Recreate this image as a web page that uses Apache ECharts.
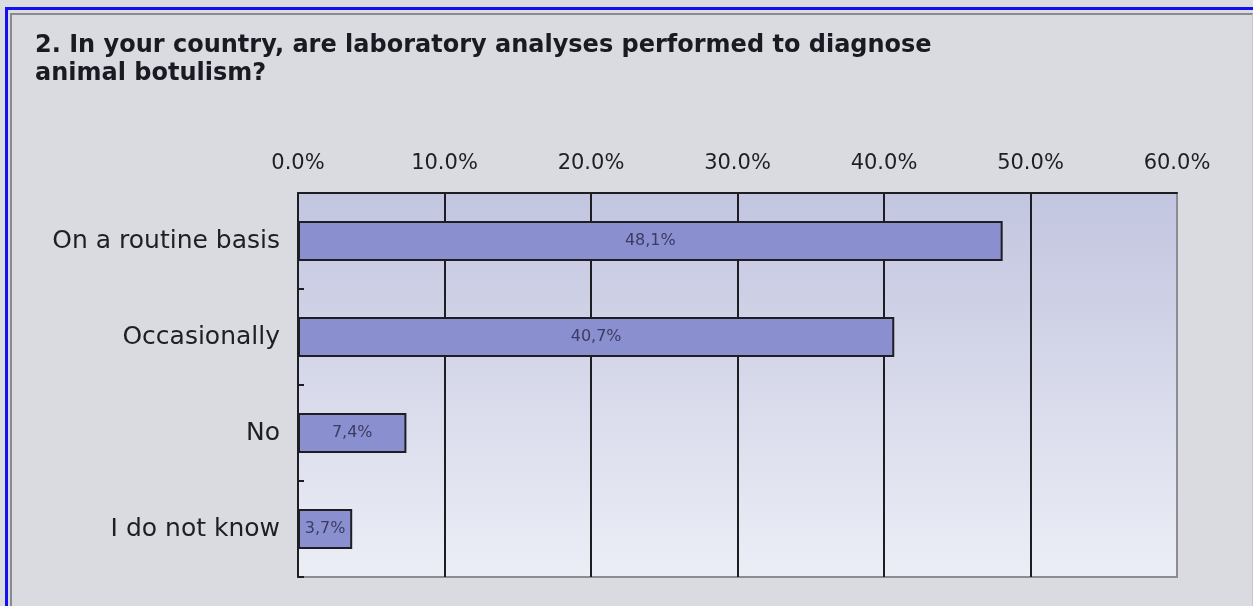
<!DOCTYPE html>
<html>
<head>
<meta charset="utf-8">
<script src="https://cdn.jsdelivr.net/npm/echarts@6/dist/echarts.min.js"></script>
<style>
  html, body { margin: 0; padding: 0; background: #dadce2; overflow: hidden; }
  #frame {
    position: absolute; left: 5px; top: 7px; width: 1248px; height: 599px;
    border-left: 3px solid #1010f0; border-top: 3px solid #1010f0; box-sizing: border-box;
  }
  #Barchart {
    position: absolute; left: 2px; top: 3px; right: 0; bottom: 0;
    border-left: 2px solid #8a8a8e; border-top: 2px solid #8a8a8e; border-right: 1px solid #c4c6cc;
    background: #d9dbe1;
  }
</style>
</head>
<body>
<div id="frame"><div id="Barchart"></div></div>
<script>
var titleText = '2. In your country, are laboratory analyses performed to diagnose\nanimal botulism?';
var categories = ['On a routine basis', 'Occasionally', 'No', 'I do not know'];
var percents = [48.1, 40.7, 7.4, 3.7];
var axisMin = 0, axisMax = 60, axisStep = 10;

var myChart = echarts.init(document.getElementById('Barchart'));
var option = {
    animation: false,
    title: {
        text: titleText,
        left: 18,
        top: 12,
        textStyle: {
            fontFamily: 'DejaVu Sans',
            fontWeight: 'bold',
            fontSize: 24,
            lineHeight: 28,
            color: '#1a1a22'
        }
    },
    grid: {
        left: 286,
        top: 178,
        width: 879,
        height: 384,
        show: true,
        borderColor: '#8c8c92',
        borderWidth: 2,
        backgroundColor: new echarts.graphic.LinearGradient(0, 0, 0, 1, [
            { offset: 0, color: '#c2c5df' },
            { offset: 1, color: '#eceef6' }
        ])
    },
    xAxis: {
        type: 'value',
        position: 'top',
        min: axisMin,
        max: axisMax,
        interval: axisStep,
        axisLine: { show: true, lineStyle: { color: '#1e1e22', width: 2 } },
        axisTick: { show: false },
        axisLabel: {
            margin: 19,
            fontFamily: 'DejaVu Sans',
            fontSize: 21,
            color: '#1e1e24',
            formatter: function (v) { return v.toFixed(1) + '%'; }
        },
        splitLine: {
            show: true,
            showMinLine: false,
            showMaxLine: false,
            lineStyle: { color: '#1e1e22', width: 2 }
        }
    },
    yAxis: {
        type: 'category',
        inverse: true,
        data: categories,
        axisLine: { show: true, lineStyle: { color: '#1e1e22', width: 2 } },
        axisTick: { show: true, inside: true, length: 6, lineStyle: { color: '#1e1e22', width: 2 } },
        axisLabel: {
            margin: 18,
            fontFamily: 'DejaVu Sans',
            fontSize: 25,
            color: '#1e1e24'
        }
    },
    series: [{
        type: 'bar',
        data: percents,
        barWidth: 40,
        itemStyle: {
            color: '#8a8fd0',
            borderColor: '#1e1e22',
            borderWidth: 2
        },
        label: {
            show: true,
            position: 'inside',
            fontFamily: 'DejaVu Sans',
            fontSize: 16,
            color: '#3c3c62',
            formatter: function (p) { return String(p.value).replace('.', ',') + '%'; }
        }
    }]
};
myChart.setOption(option);
window.onresize = () => {
    myChart.resize();
};
</script>
</body>
</html>
